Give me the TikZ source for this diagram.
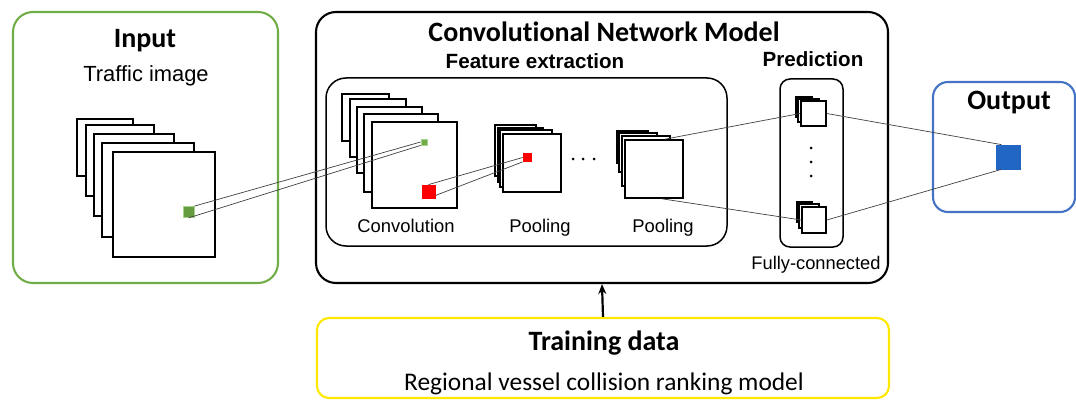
\documentclass[tikz,border=0pt]{standalone}
\usepackage{fontspec}
\setmainfont{Liberation Sans}
\newfontfamily\calibri[Ligatures=NoCommon]{Carlito}
\usetikzlibrary{arrows.meta}
\definecolor{ingreen}{HTML}{70AD47}
\definecolor{litegreen}{HTML}{A9D18E}
\definecolor{outblue}{HTML}{4472C4}
\definecolor{sqblue}{HTML}{2266C4}
\definecolor{trainyellow}{HTML}{FFE800}
\definecolor{linkgray}{HTML}{404040}
\tikzset{
  box/.style={draw, rounded corners=20pt, line width=2.1pt, inner sep=0pt},
  innerbox/.style={draw, line width=1.5pt, inner sep=0pt},
  sheet/.style={draw=black, fill=white, line width=1.6pt, inner sep=0pt},
  link/.style={draw=linkgray, line width=0.7pt},
  sq/.style={inner sep=0pt, line width=0.8pt},
  cal/.style={font=\calibri\bfseries\fontsize{28}{32}\selectfont, anchor=base},
  ar/.style={font=\fontsize{18.4}{21}\selectfont, anchor=base},
  arb/.style={font=\bfseries\fontsize{20.6}{24}\selectfont, anchor=base},
}
\newcommand{\boxat}[6]{\node[#6, minimum width={#4-#2}, minimum height={#5-#3}] (#1) at ({(#2+#4)/2},{(#3+#5)/2}) {};}
\begin{document}
\begin{tikzpicture}[x=1pt,y=-1pt]
\useasboundingbox (0,0) rectangle (1076,401);

% main boxes
\boxat{input}{13}{12}{278}{283}{box, draw=ingreen}
\boxat{main}{316}{12}{888}{283}{box, draw=black}
\boxat{feat}{326}{78}{727}{246}{innerbox, rounded corners=20pt}
\boxat{pred}{780}{79}{843}{247}{innerbox, rounded corners=10pt}
\boxat{output}{933}{82}{1075}{212}{box, draw=outblue, rounded corners=15pt}
\boxat{train}{317}{318}{889}{398}{box, draw=trainyellow, rounded corners=12pt}

% titles
\node[cal] at (145,48) {Input};
\node[ar, font=\fontsize{21.9}{25}\selectfont] at (146,82) {Traffic image};
\node[cal] at (604,42) {Convolutional Network Model};
\node[arb] at (535,69) {Feature extraction};
\node[arb] at (813,67) {Prediction};
\node[cal] at (1009,110) {Output};
\node[cal] at (604,350) {Training data};
\node[anchor=base, font=\calibri\fontsize{25.4}{29}\selectfont] at (604,390) {Regional vessel collision ranking model};
\node[ar] at (406,232) {Convolution};
\node[ar] at (540,232) {Pooling};
\node[ar] at (663,232) {Pooling};
\node[ar, font=\fontsize{18.3}{21}\selectfont] at (816,269) {Fully-connected};

% input stack
\boxat{in1}{77}{119}{133}{176}{sheet}
\boxat{in2}{86}{125}{154}{196}{sheet}
\boxat{in3}{94}{134}{174}{216}{sheet}
\boxat{in4}{102}{143}{194}{237}{sheet}
\boxat{in5}{113}{152}{215}{257}{sheet}
% convolution stack
\boxat{cv1}{342}{94}{389}{141}{sheet}
\boxat{cv2}{350}{99}{406}{157}{sheet}
\boxat{cv3}{357}{107}{422}{173}{sheet}
\boxat{cv4}{364}{114}{438}{192}{sheet}
\boxat{cv5}{372}{122}{457}{208}{sheet}
% pooling 1
\boxat{p1a}{495}{125}{536}{176}{sheet}
\boxat{p1b}{498}{128}{543}{182}{sheet}
\boxat{p1c}{500}{130}{552}{187}{sheet}
\boxat{p1d}{503}{134}{561}{192}{sheet}
% pooling 2
\boxat{p2a}{617}{131}{648}{163}{sheet}
\boxat{p2b}{619}{133}{657}{172}{sheet}
\boxat{p2c}{622}{136}{670}{186}{sheet}
\boxat{p2d}{625}{140}{683}{198}{sheet}
% fully connected
\boxat{f1a}{796}{97}{812}{117}{sheet}
\boxat{f1b}{798}{99}{819}{122}{sheet}
\boxat{f1c}{801}{101}{826}{126}{sheet}
\boxat{f2a}{797}{202}{812}{222}{sheet}
\boxat{f2b}{799}{204}{819}{228}{sheet}
\boxat{f2c}{802}{207}{826}{233}{sheet}

% dots
\foreach \x in {573,583,594} \fill (\x,159) circle (1.5);
\foreach \y in {148,162,176} \fill (811,\y) circle (1.5);

% squares
\node[sq, draw=litegreen, fill=ingreen!90!black, minimum size=11pt] (gin) at (188.5,212) {};
\node[sq, draw=litegreen, fill=ingreen, minimum size=6pt] (gcv) at (424,142) {};
\node[sq, draw=red, fill=red, minimum size=13pt] (rcv) at (428.5,191.5) {};
\node[sq, draw=red, fill=red, minimum size=8pt] (rpl) at (527,157.5) {};
\node[sq, draw=sqblue, fill=sqblue, minimum size=24pt] (blue) at (1008.5,157) {};

% connectors
\draw[link] (gin.north east) -- (gcv.west);
\draw[link] (gin.south) -- (gcv.south west);
\draw[link] (rcv.north) -- (rpl.west);
\draw[link] (rcv.-30) -- (rpl.south west);
\draw[link] (p2d.70) -- (f1c.west);
\draw[link] (p2d.-75) -- (f2c.west);
\draw[link] (f1c.east) -- (blue.120);
\draw[link] (f2c.east) -- (blue.-120);

% arrow
\draw[-{Stealth[length=10pt,width=8pt]}, line width=2.2pt] (train.north) -- (main.south);
\end{tikzpicture}
\end{document}
